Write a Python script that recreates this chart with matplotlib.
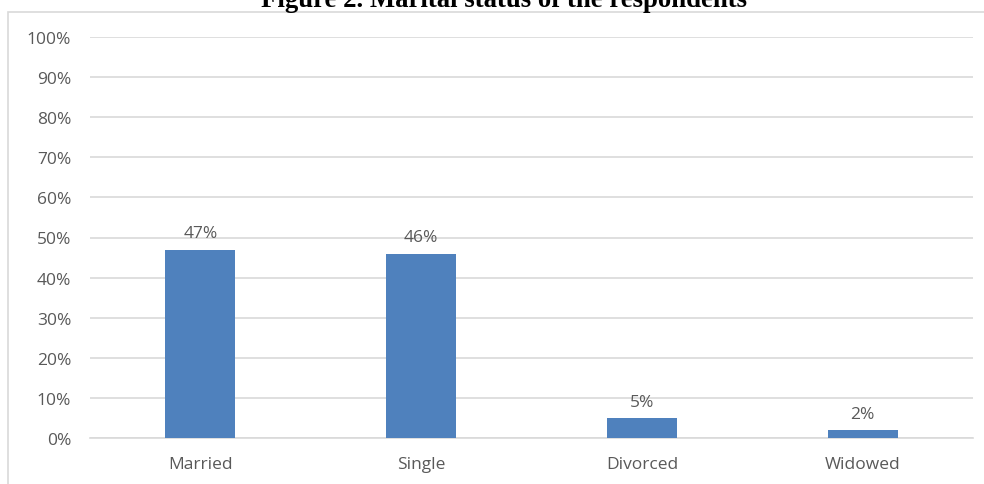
import matplotlib
matplotlib.use("Agg")
import matplotlib.pyplot as plt
from matplotlib.patches import Rectangle
from matplotlib.ticker import PercentFormatter

categories = ["Married", "Single", "Divorced", "Widowed"]
values = [47, 46, 5, 2]
yticks = [0, 10, 20, 30, 40, 50, 60, 70, 80, 90, 100]
title = "Figure 2. Marital status of the respondents"

W, H = 984, 485
fig = plt.figure(figsize=(W / 100, H / 100), dpi=100)
fig.patch.set_facecolor("white")

# outer chart frame
fig.patches.append(Rectangle((8 / W, -0.1), 1.2, (H - 13) / H + 0.1,
                             transform=fig.transFigure, fill=False,
                             edgecolor="#d9d9d9", linewidth=1.2))

ax = fig.add_axes([90 / W, 46 / H, (973 - 90) / W, (439 - 38) / H])
text_color = "#595959"
font = "Open Sans"
fs = 12.5

x = range(len(categories))
bars = ax.bar(x, values, width=0.317, color="#4f81bd", zorder=3)
ax.bar_label(bars, labels=[f"{v}%" for v in values], padding=6,
             color=text_color, fontsize=fs, family=font)

ax.set_xlim(-0.5, len(categories) - 0.5)
ax.set_ylim(0, 100)
ax.set_yticks(yticks)
ax.yaxis.set_major_formatter(PercentFormatter(decimals=0))
ax.set_xticks(list(x))
ax.set_xticklabels(categories)
ax.grid(axis="y", color="#d9d9d9", linewidth=1.2, zorder=0)
for s in ["top", "right", "left"]:
    ax.spines[s].set_visible(False)
ax.spines["bottom"].set_color("#d9d9d9")
ax.spines["bottom"].set_linewidth(1.2)
ax.tick_params(axis="both", length=0, colors=text_color, labelsize=fs)
ax.tick_params(axis="y", pad=13.5)
ax.tick_params(axis="x", pad=13)
for lab in ax.get_xticklabels() + ax.get_yticklabels():
    lab.set_family(font)

fig.text(504 / W, 1 - 7 / H, title, ha="center", va="baseline",
         fontsize=19.3, fontweight="bold", family="Liberation Serif", color="black")

fig.savefig("out.png", dpi=100, facecolor="white")
